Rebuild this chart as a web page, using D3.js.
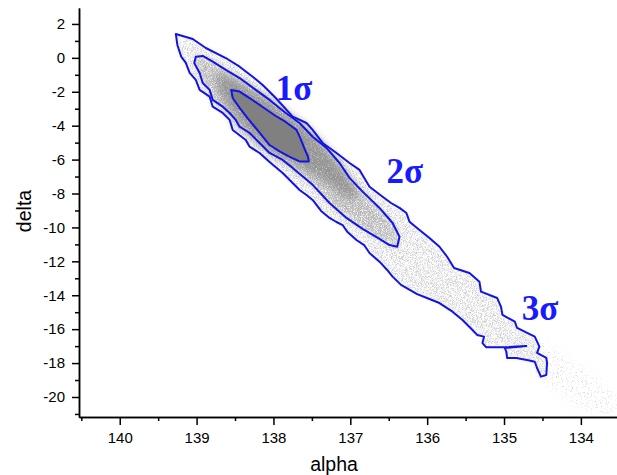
<!DOCTYPE html>
<html>
<head>
<meta charset="utf-8">
<script src="https://cdn.jsdelivr.net/npm/d3@7"></script>
<style>
  body { margin: 0; background: #fff; }
  svg { display: block; }
</style>
</head>
<body>
<div class="chart"></div>
<script>
// contours, [alpha, delta]
const contour1 = [
  [138.55, -1.89], [138.44, -1.99], [138.31, -2.37], [138.14, -2.90], [137.97, -3.43],
  [137.84, -3.78], [137.70, -4.25], [137.65, -4.73], [137.60, -5.31], [137.55, -5.84],
  [137.54, -6.11], [137.66, -6.11], [137.79, -5.84], [137.92, -5.52], [138.05, -5.14],
  [138.21, -4.25], [138.34, -3.54], [138.44, -2.95], [138.53, -2.37]
];
const contour2 = [
  [139.01, 0.07], [138.92, 0.11], [138.79, -0.22], [138.62, -0.71], [138.44, -1.19],
  [138.23, -1.89], [138.05, -2.48], [137.84, -3.25], [137.66, -3.84], [137.49, -4.65],
  [137.31, -5.31], [137.14, -6.20], [137.01, -7.08], [136.84, -7.89], [136.62, -8.85],
  [136.45, -9.74], [136.36, -10.55], [136.39, -11.14], [136.49, -11.04], [136.62, -10.68],
  [136.84, -10.09], [137.05, -9.44], [137.27, -8.56], [137.49, -7.49], [137.75, -6.49],
  [137.88, -6.02], [138.05, -5.61], [138.18, -5.02], [138.31, -4.43], [138.44, -4.06],
  [138.49, -3.66], [138.57, -3.25], [138.66, -2.88], [138.79, -2.48], [138.83, -1.89],
  [138.92, -1.48], [138.96, -0.89], [139.03, -0.30]
];
const contour3 = [
  [139.27, 1.41], [139.05, 1.11], [138.88, 0.58], [138.62, -0.01], [138.44, -0.52],
  [138.27, -1.11], [138.14, -1.60], [137.97, -2.37], [137.75, -3.47], [137.57, -3.84],
  [137.49, -4.25], [137.36, -5.02], [137.18, -5.61], [137.01, -6.20], [136.88, -6.61],
  [136.75, -7.60], [136.58, -8.19], [136.47, -8.56], [136.36, -8.85], [136.27, -9.15],
  [136.23, -9.66], [136.10, -10.15], [135.97, -10.62], [135.84, -11.14], [135.74, -11.73],
  [135.65, -12.39], [135.45, -12.69], [135.32, -13.20], [135.30, -13.79], [135.09, -14.16],
  [135.04, -14.67], [135.02, -15.16], [134.86, -15.56], [134.83, -15.93], [134.60, -16.44],
  [134.54, -17.03], [134.57, -17.40], [134.45, -17.70], [134.44, -17.99], [134.45, -18.70],
  [134.52, -18.80], [134.57, -18.29], [134.60, -17.92], [134.70, -17.82], [134.84, -17.70],
  [134.96, -17.70], [134.97, -17.33], [134.99, -17.11], [134.71, -16.99], [134.99, -17.07],
  [135.23, -17.07], [135.28, -16.82], [135.26, -16.44], [135.35, -16.34], [135.41, -16.05],
  [135.54, -15.46], [135.67, -14.97], [135.84, -14.46], [135.97, -14.22], [136.13, -13.93],
  [136.34, -13.39], [136.45, -12.90], [136.52, -12.51], [136.62, -12.02], [136.75, -11.51],
  [136.82, -11.04], [136.92, -10.74], [137.04, -10.25], [137.10, -9.86], [137.18, -9.68],
  [137.27, -9.44], [137.38, -9.03], [137.49, -8.38], [137.57, -8.09], [137.66, -7.79],
  [137.75, -7.38], [137.88, -6.79], [138.05, -6.14], [138.18, -5.61], [138.31, -5.24],
  [138.36, -4.84], [138.53, -4.25], [138.57, -3.66], [138.66, -3.25], [138.79, -2.88],
  [138.83, -2.29], [138.96, -1.89], [139.01, -1.30], [139.09, -0.89], [139.14, -0.30],
  [139.20, 0.07], [139.25, 0.76]
];
// darker band of points along the ridge
const ridge = [
  [138.77, -0.71], [138.44, -1.42], [138.05, -2.48], [137.66, -3.78], [137.40, -4.84],
  [137.14, -6.32], [136.95, -7.50], [136.88, -8.38], [137.01, -8.38], [137.27, -7.50],
  [137.60, -6.61], [137.92, -5.90], [138.25, -4.84], [138.51, -3.54], [138.70, -2.19]
];
// sparse points past the 3 sigma contour
const tail = [
  [134.80, -16.34], [134.41, -16.93], [134.02, -18.11], [133.69, -19.29], [133.54, -19.88],
  [133.54, -21.12], [133.76, -21.12], [134.08, -20.47], [134.34, -19.58], [134.54, -19.00],
  [134.73, -18.11], [134.86, -17.23]
];
const sigmaLabels = ["1σ", "2σ", "3σ"];
const sigmaLabelPos = [[137.97, -2.48], [136.53, -7.38], [134.77, -15.46]];

const xTicks = [140, 139, 138, 137, 136, 135, 134];
const xMinor = [140.5, 139.5, 138.5, 137.5, 136.5, 135.5, 134.5];
const yTicks = [2, 0, -2, -4, -6, -8, -10, -12, -14, -16, -18, -20];
const yMinor = [1, -1, -3, -5, -7, -9, -11, -13, -15, -17, -19, -21];

const width = 617, height = 475;
const x = d3.scaleLinear().domain([140.53, 133.53]).range([79, 617]);
const y = d3.scaleLinear().domain([-21.18, 2.94]).range([417, 8]);

const svg = d3.select(".chart").append("svg")
  .attr("width", width)
  .attr("height", height)
  .attr("viewBox", [0, 0, width, height]);

const defs = svg.append("defs");
defs.append("clipPath").attr("id", "plot")
  .append("rect").attr("x", 80).attr("y", 0).attr("width", 540).attr("height", 416);

// grainy fill: blurred shape masked by noise
function grain(id, blur, gain, offset, seed) {
  const f = defs.append("filter").attr("id", id)
    .attr("x", "-20%").attr("y", "-20%").attr("width", "140%").attr("height", "140%");
  f.append("feGaussianBlur").attr("in", "SourceGraphic").attr("stdDeviation", blur).attr("result", "b");
  f.append("feTurbulence").attr("type", "fractalNoise").attr("baseFrequency", 1.2)
    .attr("numOctaves", 2).attr("seed", seed).attr("result", "n");
  f.append("feColorMatrix").attr("in", "n").attr("type", "matrix")
    .attr("values", `0 0 0 0 0  0 0 0 0 0  0 0 0 0 0  0 0 0 ${gain} ${offset}`).attr("result", "m");
  f.append("feComposite").attr("in", "b").attr("in2", "m").attr("operator", "in");
}
grain("g3", 2, 3.5, -1.45, 4);
grain("gt", 4, 5, -2.9, 9);
grain("g2", 3.5, 3, -0.9, 6);
grain("gr", 5, 2, -0.1, 11);

const line = d3.line().x(d => x(d[0])).y(d => y(d[1])).curve(d3.curveLinearClosed);

const cloud = svg.append("g").attr("clip-path", "url(#plot)");
cloud.append("path").attr("d", line(contour3)).attr("fill", "#cfcfcf").attr("filter", "url(#g3)");
cloud.append("path").attr("d", line(tail)).attr("fill", "#d4d4d4").attr("filter", "url(#gt)");
cloud.append("path").attr("d", line(contour2)).attr("fill", "#b4b4b4").attr("filter", "url(#g2)");
cloud.append("path").attr("d", line(ridge)).attr("fill", "#939393").attr("filter", "url(#gr)");
cloud.append("path").attr("d", line(contour1)).attr("fill", "#808080");

svg.append("g")
  .attr("fill", "none")
  .attr("stroke", "#1414e0")
  .attr("stroke-width", 2)
  .attr("stroke-linejoin", "round")
  .selectAll("path")
  .data([contour1, contour2, contour3])
  .join("path")
  .attr("d", line);

svg.append("g")
  .attr("font-family", "'Liberation Serif', serif")
  .attr("font-weight", "bold")
  .attr("font-size", 35)
  .attr("fill", "#1a1aff")
  .selectAll("text")
  .data(sigmaLabels)
  .join("text")
  .attr("x", (d, i) => x(sigmaLabelPos[i][0]))
  .attr("y", (d, i) => y(sigmaLabelPos[i][1]))
  .text(d => d);

// axes
function styleAxis(g) {
  g.attr("font-family", "'Liberation Sans', Arial, sans-serif").attr("font-size", 15);
  g.selectAll("path, line").attr("stroke", "#000").attr("stroke-width", 1.5);
  g.selectAll("text").attr("fill", "#000");
}
svg.append("g").attr("transform", "translate(0,417)")
  .call(d3.axisBottom(x).tickValues(xMinor).tickSize(4).tickSizeOuter(0).tickFormat(""))
  .call(styleAxis);
svg.append("g").attr("transform", "translate(0,417)")
  .call(d3.axisBottom(x).tickValues(xTicks).tickSize(8).tickSizeOuter(0).tickPadding(7).tickFormat(d => String(d)))
  .call(styleAxis);
svg.append("g").attr("transform", "translate(79,0)")
  .call(d3.axisLeft(y).tickValues(yMinor).tickSize(4).tickSizeOuter(0).tickFormat(""))
  .call(styleAxis);
svg.append("g").attr("transform", "translate(79,0)")
  .call(d3.axisLeft(y).tickValues(yTicks).tickSize(7).tickSizeOuter(0).tickPadding(7).tickFormat(d => String(d)))
  .call(styleAxis);

svg.append("text")
  .attr("x", 334).attr("y", 471)
  .attr("text-anchor", "middle")
  .attr("font-family", "'Liberation Sans', Arial, sans-serif")
  .attr("font-size", 19.5)
  .text("alpha");
svg.append("text")
  .attr("transform", "translate(31,211) rotate(-90)")
  .attr("text-anchor", "middle")
  .attr("font-family", "'Liberation Sans', Arial, sans-serif")
  .attr("font-size", 19.5)
  .text("delta");
</script>
</body>
</html>
